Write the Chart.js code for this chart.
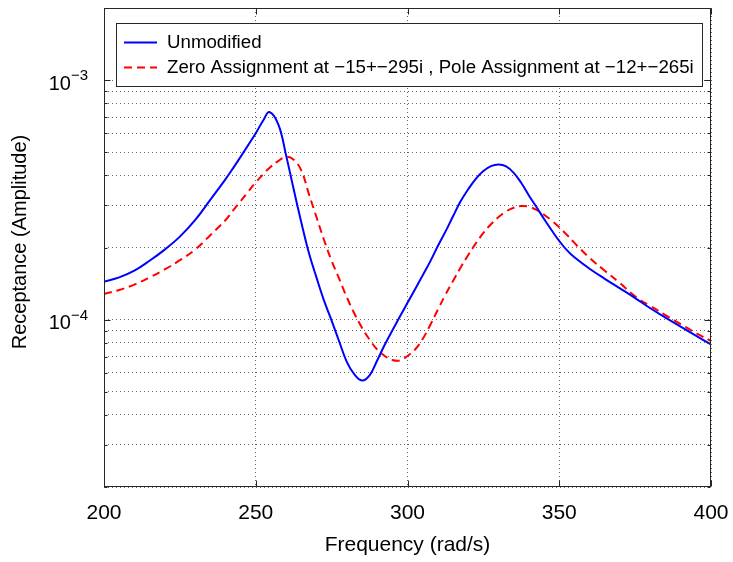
<!DOCTYPE html>
<html>
<head>
<meta charset="utf-8">
<script src="https://cdn.jsdelivr.net/npm/chart.js@4/dist/chart.umd.min.js"></script>
<style>
  html, body { margin: 0; padding: 0; background: #fff; }
  #wrap { width: 733px; height: 562px; position: relative; }
</style>
</head>
<body>
<div id="wrap"><canvas id="chart"></canvas></div>
<script>
// frequency points (rad/s)
const freq = [200, 205, 210, 215, 220, 225, 230, 235, 240, 242.5, 245, 247.5, 250, 252.5, 254.5, 257.5,
  260, 262.5, 265, 267.5, 270, 272.5, 275, 277.5, 280, 282.5, 285, 287.5, 290, 292.5, 295, 297.5,
  300, 302.5, 305, 307.5, 310, 312.5, 315, 317.5, 320, 322.5, 325, 327.5, 330, 332.5, 335, 337.5,
  340, 342.5, 345, 347.5, 350, 352.5, 355, 360, 365, 370, 375, 380, 385, 390, 395, 400];

const unmodified = [1.44e-4, 1.50e-4, 1.60e-4, 1.76e-4, 1.96e-4, 2.22e-4, 2.60e-4, 3.16e-4, 3.85e-4, 4.28e-4,
  4.78e-4, 5.35e-4, 6.0e-4, 6.8e-4, 7.36e-4, 6.5e-4,
  4.85e-4, 3.5e-4, 2.55e-4, 1.9e-4, 1.5e-4, 1.2e-4, 9.9e-5, 8.1e-5, 6.66e-5, 5.9e-5, 5.57e-5, 5.85e-5,
  6.75e-5, 7.85e-5, 9.0e-5, 1.03e-4,
  1.175e-4, 1.34e-4, 1.53e-4, 1.75e-4, 2.03e-4, 2.33e-4, 2.7e-4, 3.12e-4, 3.5e-4, 3.87e-4, 4.17e-4, 4.37e-4,
  4.44e-4, 4.36e-4, 4.1e-4, 3.72e-4,
  3.3e-4, 2.95e-4, 2.63e-4, 2.36e-4, 2.13e-4, 1.95e-4, 1.82e-4, 1.63e-4, 1.48e-4, 1.35e-4, 1.23e-4, 1.115e-4,
  1.02e-4, 9.35e-5, 8.58e-5, 7.87e-5];

const assigned = [1.28e-4, 1.33e-4, 1.40e-4, 1.50e-4, 1.62e-4, 1.77e-4, 1.96e-4, 2.25e-4, 2.6e-4, 2.85e-4,
  3.12e-4, 3.42e-4, 3.74e-4, 4.05e-4, 4.3e-4, 4.6e-4,
  4.78e-4, 4.65e-4, 4.2e-4, 3.35e-4, 2.68e-4, 2.15e-4, 1.76e-4, 1.48e-4, 1.24e-4, 1.06e-4, 9.25e-5, 8.25e-5,
  7.5e-5, 7.05e-5, 6.78e-5, 6.75e-5,
  7.05e-5, 7.5e-5, 8.3e-5, 9.5e-5, 1.1e-4, 1.27e-4, 1.45e-4, 1.65e-4, 1.86e-4, 2.08e-4, 2.3e-4, 2.5e-4,
  2.68e-4, 2.83e-4, 2.93e-4, 2.98e-4,
  2.96e-4, 2.87e-4, 2.74e-4, 2.59e-4, 2.43e-4, 2.26e-4, 2.09e-4, 1.81e-4, 1.6e-4, 1.42e-4, 1.25e-4, 1.14e-4,
  1.045e-4, 9.57e-5, 8.8e-5, 8.14e-5];

const seriesNames = ['Unmodified', 'Zero Assignment at \u221215+\u2212295i , Pole Assignment at \u221212+\u2212265i'];

// y grid (log decades with minor lines) and labelled decades
const yGrid = [2e-5, 3e-5, 4e-5, 5e-5, 6e-5, 7e-5, 8e-5, 9e-5, 1e-4, 2e-4, 3e-4, 4e-4, 5e-4, 6e-4, 7e-4, 8e-4, 9e-4, 1e-3, 2e-3];
const yLabelled = [1e-3, 1e-4];
const yLabelExp = ['\u22123', '\u22124'];
const xTicks = [200, 250, 300, 350, 400];

const FONT = '"Liberation Sans", Arial, Helvetica, sans-serif';

const toPoints = vals => freq.map((f, i) => ({ x: f, y: vals[i] }));

// box, inward ticks, y labels, y title and legend (MATLAB style)
const matlabFrame = {
  id: 'matlabFrame',
  afterDraw(chart) {
    const { ctx, chartArea: a, scales: { x, y } } = chart;
    ctx.save();
    ctx.strokeStyle = '#262626';
    ctx.lineWidth = 1;
    const L = Math.round(a.left) + 0.5, R = Math.round(a.right) - 0.5;
    const T = Math.round(a.top) + 0.5, B = Math.round(a.bottom) - 0.5;
    ctx.strokeRect(L, T, R - L, B - T);

    ctx.beginPath();
    yGrid.forEach(v => {
      const py = Math.round(y.getPixelForValue(v)) + 0.5;
      const len = yLabelled.includes(v) ? 6 : 3;
      ctx.moveTo(L, py); ctx.lineTo(L + len, py);
      ctx.moveTo(R, py); ctx.lineTo(R - len, py);
    });
    xTicks.forEach(v => {
      const px = Math.round(x.getPixelForValue(v)) + 0.5;
      ctx.moveTo(px, B); ctx.lineTo(px, B - 6);
      ctx.moveTo(px, T); ctx.lineTo(px, T + 6);
    });
    ctx.stroke();

    // y tick labels 10^n
    ctx.fillStyle = '#000';
    ctx.textBaseline = 'middle';
    yLabelled.forEach((v, i) => {
      const py = y.getPixelForValue(v);
      ctx.font = '15px ' + FONT;
      ctx.textAlign = 'right';
      ctx.fillText(yLabelExp[i], 88, py - 4);
      const w = ctx.measureText(yLabelExp[i]).width;
      ctx.font = '20px ' + FONT;
      ctx.fillText('10', 88 - w, py + 4);
    });

    // y axis title
    ctx.save();
    ctx.translate(20, 242);
    ctx.rotate(-Math.PI / 2);
    ctx.textAlign = 'center';
    ctx.font = '20px ' + FONT;
    ctx.fillText('Receptance (Amplitude)', 0, 0);
    ctx.restore();

    // legend
    ctx.fillStyle = '#fff';
    ctx.fillRect(116.5, 23.5, 586, 63);
    ctx.strokeStyle = '#262626';
    ctx.strokeRect(116.5, 23.5, 586, 63);
    chart.data.datasets.forEach((ds, i) => {
      const ly = 42.5 + i * 25;
      ctx.strokeStyle = ds.borderColor;
      ctx.lineWidth = 2;
      ctx.setLineDash(ds.borderDash || []);
      ctx.beginPath();
      ctx.moveTo(124, ly); ctx.lineTo(157, ly);
      ctx.stroke();
      ctx.setLineDash([]);
      ctx.fillStyle = '#000';
      ctx.font = '18.7px ' + FONT;
      ctx.textAlign = 'left';
      ctx.fillText(ds.label, 167, ly);
    });
    ctx.restore();
  }
};

new Chart(document.getElementById('chart'), {
  type: 'line',
  data: {
    datasets: [
      { label: seriesNames[0], data: toPoints(unmodified), borderColor: '#0000ff', borderWidth: 2,
        pointRadius: 0, tension: 0.4, fill: false },
      { label: seriesNames[1], data: toPoints(assigned), borderColor: '#ff0000', borderWidth: 2,
        borderDash: [8, 5], pointRadius: 0, tension: 0.4, fill: false }
    ]
  },
  options: {
    responsive: true, maintainAspectRatio: false, animation: false,
    layout: { padding: { top: 8, right: 22, left: 0, bottom: 0 } },
    plugins: { legend: { display: false }, tooltip: { enabled: false } },
    scales: {
      x: {
        type: 'linear', min: 200, max: 400,
        afterBuildTicks: s => { s.ticks = xTicks.map(v => ({ value: v })); },
        afterFit: s => { s.height = 75; s.paddingLeft = 0; s.paddingRight = 0; },
        grid: { color: 'rgba(0,0,0,0.6)', drawTicks: false },
        border: { display: false, dash: [1, 3] },
        ticks: { color: '#000', padding: 14, font: { family: FONT, size: 21 }, maxRotation: 0 },
        title: { display: true, text: 'Frequency (rad/s)', color: '#000', padding: { bottom: 4, top: 0 },
          font: { family: FONT, size: 21 } }
      },
      y: {
        type: 'logarithmic', min: 2e-5, max: 2e-3,
        afterBuildTicks: s => { s.ticks = yGrid.map(v => ({ value: v })); },
        afterFit: s => { s.width = 104; },
        grid: { color: 'rgba(0,0,0,0.6)', drawTicks: false },
        border: { display: false, dash: [1, 3] },
        ticks: { display: false }
      }
    }
  },
  plugins: [matlabFrame]
});
</script>
</body>
</html>
